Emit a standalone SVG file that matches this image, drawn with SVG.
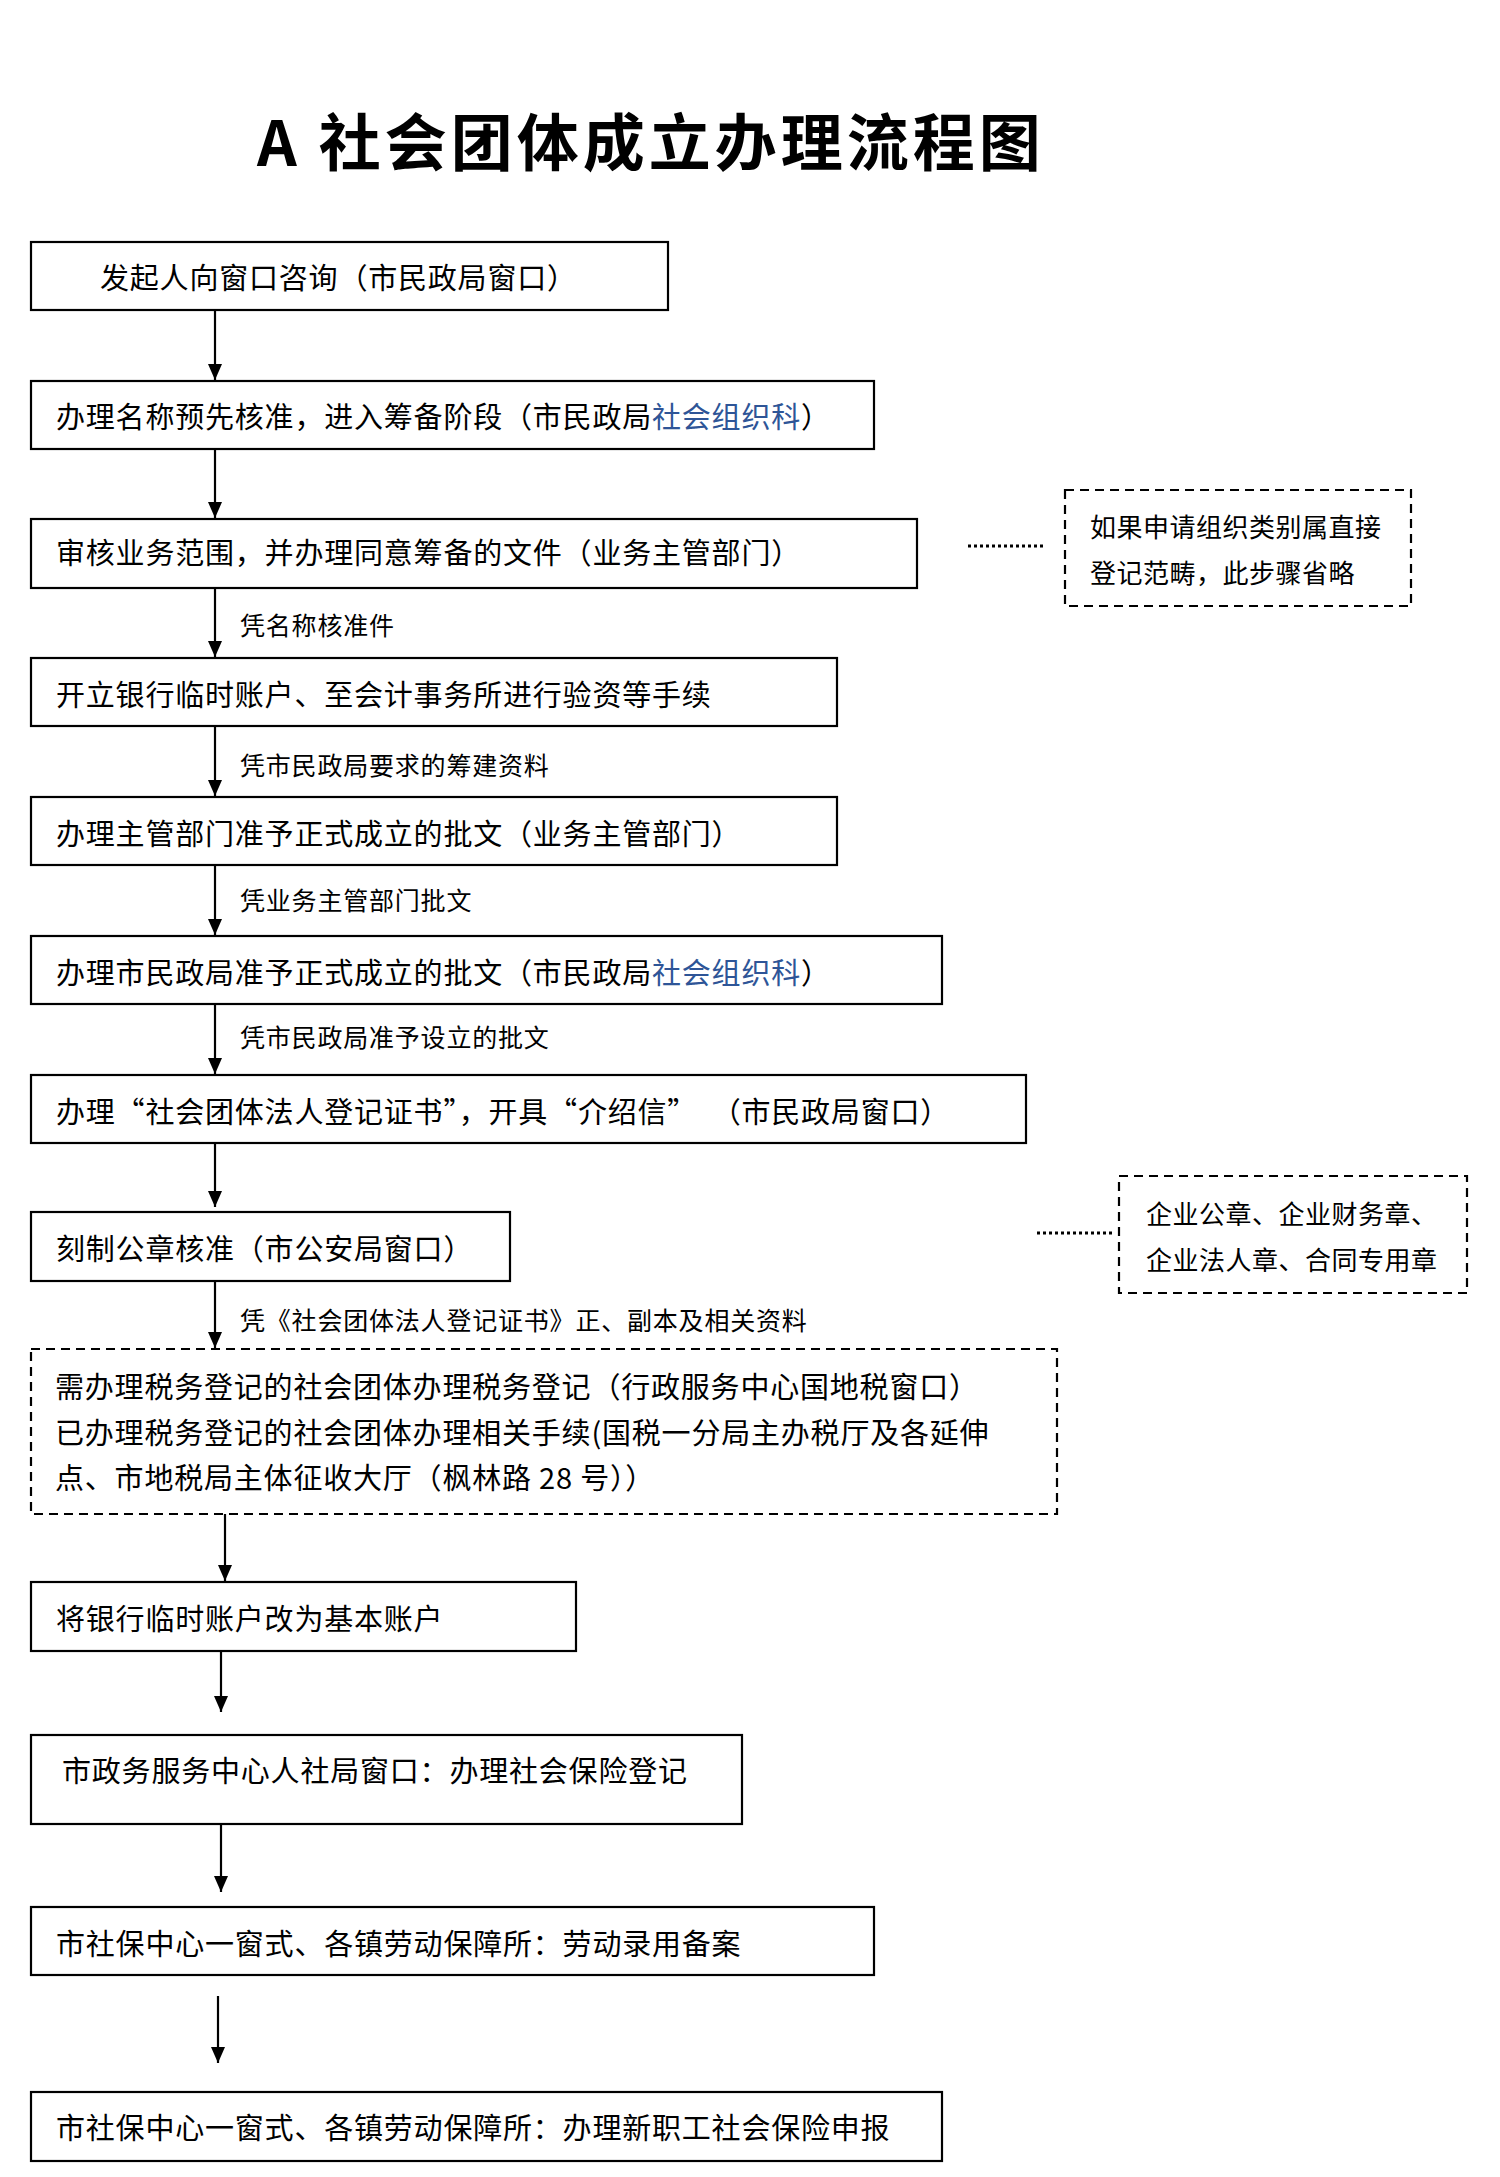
<svg xmlns="http://www.w3.org/2000/svg" width="1500" height="2177" viewBox="0 0 1500 2177">
<style>
.b{fill:#fff;stroke:#000;stroke-width:2.2}
.d{fill:#fff;stroke:#000;stroke-width:2.2;stroke-dasharray:9 6}
.t{font-family:"Noto Sans CJK SC","Liberation Serif",serif;font-size:29px;letter-spacing:0.8px;fill:#000;dominant-baseline:central;white-space:pre}
.s{font-family:"Noto Sans CJK SC","Liberation Serif",serif;font-size:25px;letter-spacing:0.8px;fill:#000;dominant-baseline:central}
.n{font-family:"Noto Sans CJK SC","Liberation Serif",serif;font-size:26px;letter-spacing:0.5px;fill:#000;dominant-baseline:central}
.bl{fill:#2e5597}
.a{stroke:#000;stroke-width:2.2;fill:none;marker-end:url(#ah)}
.dot{stroke:#000;stroke-width:3;stroke-dasharray:3 3;fill:none}
</style>
<defs><marker id="ah" viewBox="0 0 16 16" refX="16" refY="8" markerWidth="16" markerHeight="16" orient="auto" markerUnits="userSpaceOnUse"><path d="M0,1L16,8L0,15z" fill="#000"/></marker></defs>
<rect width="1500" height="2177" fill="#fff"/>
<text x="257" y="139" font-family="Noto Sans CJK SC,sans-serif" font-size="62" font-weight="bold" letter-spacing="4" dominant-baseline="central">A 社会团体成立办理流程图</text>
<g id="n1"><rect class="b" x="31" y="242" width="637" height="68"/><text class="t" x="100" y="276">发起人向窗口咨询（市民政局窗口）</text></g>
<g id="n2"><rect class="b" x="31" y="381" width="843" height="68"/><text class="t" x="56" y="415">办理名称预先核准，进入筹备阶段（市民政局<tspan class="bl">社会组织科</tspan>）</text></g>
<g id="n3"><rect class="b" x="31" y="519" width="886" height="69"/><text class="t" x="56" y="551">审核业务范围，并办理同意筹备的文件（业务主管部门）</text></g>
<g id="nA"><rect class="d" x="1065" y="490" width="346" height="116"/><text class="n" x="1090" y="525">如果申请组织类别属直接</text><text class="n" x="1090" y="571">登记范畴，此步骤省略</text></g>
<g id="n4"><rect class="b" x="31" y="658" width="806" height="68"/><text class="t" x="56" y="693">开立银行临时账户、至会计事务所进行验资等手续</text></g>
<g id="n5"><rect class="b" x="31" y="797" width="806" height="68"/><text class="t" x="56" y="832">办理主管部门准予正式成立的批文（业务主管部门）</text></g>
<g id="n6"><rect class="b" x="31" y="936" width="911" height="68"/><text class="t" x="56" y="971">办理市民政局准予正式成立的批文（市民政局<tspan class="bl">社会组织科</tspan>）</text></g>
<g id="n7"><rect class="b" x="31" y="1075" width="995" height="68"/><text class="t" x="56" y="1110">办理“社会团体法人登记证书”，开具“介绍信”  （市民政局窗口）</text></g>
<g id="n8"><rect class="b" x="31" y="1212" width="479" height="69"/><text class="t" x="56" y="1247">刻制公章核准（市公安局窗口）</text></g>
<g id="nB"><rect class="d" x="1119" y="1176" width="348" height="117"/><text class="n" x="1146" y="1212">企业公章、企业财务章、</text><text class="n" x="1146" y="1258">企业法人章、合同专用章</text></g>
<g id="n9"><rect class="d" x="31" y="1349" width="1026" height="165"/><text class="t" x="55" y="1385">需办理税务登记的社会团体办理税务登记（行政服务中心国地税窗口）</text><text class="t" x="55" y="1431">已办理税务登记的社会团体办理相关手续(国税一分局主办税厅及各延伸</text><text class="t" x="55" y="1476">点、市地税局主体征收大厅（枫林路 28 号））</text></g>
<g id="n10"><rect class="b" x="31" y="1582" width="545" height="69"/><text class="t" x="56" y="1617">将银行临时账户改为基本账户</text></g>
<g id="n11"><rect class="b" x="31" y="1735" width="711" height="89"/><text class="t" x="62" y="1769">市政务服务中心人社局窗口：办理社会保险登记</text></g>
<g id="n12"><rect class="b" x="31" y="1907" width="843" height="68"/><text class="t" x="56" y="1942">市社保中心一窗式、各镇劳动保障所：劳动录用备案</text></g>
<g id="n13"><rect class="b" x="31" y="2092" width="911" height="69"/><text class="t" x="56" y="2126">市社保中心一窗式、各镇劳动保障所：办理新职工社会保险申报</text></g>
<g id="connectors">
<path class="a" d="M215,310V380"/>
<path class="a" d="M215,449V518"/>
<path class="a" d="M215,588V657"/>
<path class="a" d="M215,726V796"/>
<path class="a" d="M215,865V935"/>
<path class="a" d="M215,1004V1074"/>
<path class="a" d="M215,1143V1207"/>
<path class="a" d="M215,1281V1348"/>
<path class="a" d="M225,1514V1581"/>
<path class="a" d="M221,1651V1712"/>
<path class="a" d="M221,1824V1892"/>
<path class="a" d="M218,1996V2063"/>
<path class="dot" d="M968,546H1044"/>
<path class="dot" d="M1037,1233H1115"/>
<text class="s" x="240" y="624">凭名称核准件</text>
<text class="s" x="240" y="764">凭市民政局要求的筹建资料</text>
<text class="s" x="240" y="899">凭业务主管部门批文</text>
<text class="s" x="240" y="1036">凭市民政局准予设立的批文</text>
<text class="s" x="240" y="1319">凭《社会团体法人登记证书》正、副本及相关资料</text>
</g>
</svg>
